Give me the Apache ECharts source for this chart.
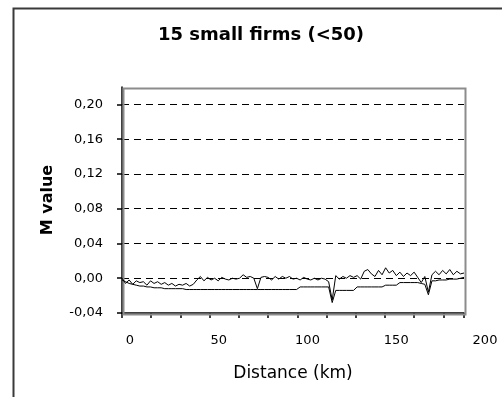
<!DOCTYPE html>
<html>
<head>
<meta charset="utf-8">
<script src="https://cdn.jsdelivr.net/npm/echarts@6/dist/echarts.min.js"></script>
<style>
  html, body { margin: 0; padding: 0; background: #fff; }
  #chart { width: 502px; height: 397px; }
</style>
</head>
<body>
<div id="chart"></div>
<script>
// Distances (km) at which the M statistic was evaluated
var distances = [
  0, 2, 4, 6, 8, 10, 12, 14, 16, 18, 20, 22, 24, 26, 28, 30, 32, 34, 36, 38,
  40, 42, 44, 46, 48, 50, 52, 54, 56, 58, 60, 62, 64, 66, 68, 70, 72, 74, 76, 78,
  80, 82, 84, 86, 88, 90, 92, 94, 96, 98, 100, 102, 104, 106, 108, 110, 112, 114, 116, 118,
  120, 122, 124, 126, 128, 130, 132, 134, 136, 138, 140, 142, 144, 146, 148, 150, 152, 154, 156, 158,
  160, 162, 164, 166, 168, 170, 172, 174, 176, 178, 180, 182, 184, 186, 188, 190, 192
];

// Observed M value
var mValue = [
  0.000, -0.006, -0.002, -0.007, -0.003, -0.005, -0.004, -0.008, -0.003, -0.006,
  -0.004, -0.007, -0.005, -0.008, -0.006, -0.009, -0.007, -0.008, -0.006, -0.009,
  -0.007, -0.002, 0.002, -0.003, 0.001, -0.002, 0.000, -0.003, 0.001, -0.001,
  -0.002, 0.000, -0.001, 0.000, 0.004, 0.001, 0.002, 0.000, -0.012, 0.001,
  0.002, 0.001, -0.002, 0.002, -0.001, 0.002, 0.000, 0.002, -0.001, 0.000,
  -0.002, 0.001, -0.001, -0.002, 0.000, -0.002, 0.000, -0.001, -0.004, -0.025,
  0.003, -0.001, 0.002, 0.000, 0.003, 0.001, 0.003, -0.001, 0.008, 0.010,
  0.005, 0.002, 0.009, 0.004, 0.012, 0.006, 0.009, 0.003, 0.007, 0.002,
  0.006, 0.003, 0.007, 0.001, -0.005, 0.002, -0.016, 0.004, 0.008, 0.004,
  0.009, 0.005, 0.010, 0.004, 0.008, 0.005, 0.006
];

// Lower bound of the simulated envelope
var lowerBound = [
  -0.002, -0.004, -0.006, -0.007, -0.008, -0.009, -0.009, -0.010, -0.010, -0.011,
  -0.011, -0.011, -0.012, -0.012, -0.012, -0.012, -0.012, -0.012, -0.013, -0.013,
  -0.013, -0.013, -0.013, -0.013, -0.013, -0.013, -0.013, -0.013, -0.013, -0.013,
  -0.013, -0.013, -0.013, -0.013, -0.013, -0.013, -0.013, -0.013, -0.013, -0.013,
  -0.013, -0.013, -0.013, -0.013, -0.013, -0.013, -0.013, -0.013, -0.013, -0.013,
  -0.010, -0.010, -0.010, -0.010, -0.010, -0.010, -0.010, -0.010, -0.010, -0.028,
  -0.014, -0.014, -0.014, -0.014, -0.014, -0.014, -0.010, -0.010, -0.010, -0.010,
  -0.010, -0.010, -0.010, -0.010, -0.008, -0.008, -0.008, -0.008, -0.005, -0.005,
  -0.005, -0.005, -0.005, -0.005, -0.006, -0.007, -0.019, -0.003, -0.003, -0.002,
  -0.002, -0.002, -0.001, -0.001, -0.001, 0.000, 0.001
];

// Axis tick labels
var yTicks = [-0.04, 0.00, 0.04, 0.08, 0.12, 0.16, 0.20];
var xTickLabels = [0, 50, 100, 150, 200];

function pairs(xs, ys) {
  return xs.map(function (x, i) { return [x, ys[i]]; });
}

var labelFont = { fontFamily: 'DejaVu Sans', fontSize: 13, color: '#000' };

var chart = echarts.init(document.getElementById('chart'), null, { renderer: 'canvas' });
chart.setOption({
  animation: false,
  backgroundColor: '#fff',
  title: {
    text: '15 small firms (<50)',
    left: 256,
    top: 21,
    textAlign: 'center',
    textStyle: { fontFamily: 'DejaVu Sans', fontWeight: 'bold', fontSize: 18, color: '#000' }
  },
  graphic: [
    {
      // outer chart border
      type: 'rect',
      left: 11,
      top: 6,
      shape: { width: 490, height: 400 },
      style: { fill: 'none', stroke: '#3a3a3a', lineWidth: 2 },
      silent: true,
      z: 100
    },
    {
      // plot area frame
      type: 'rect',
      left: 121,
      top: 86,
      shape: { width: 342, height: 226 },
      style: { fill: 'none', stroke: '#8c8c8c', lineWidth: 2 },
      silent: true,
      z: 1
    }
  ],
  grid: [
    { left: 122, top: 87, width: 342, height: 226, show: false },
    { left: 130, top: 87, width: 355, height: 226, show: false }
  ],
  xAxis: [
    {
      gridIndex: 0,
      type: 'value',
      min: 0,
      max: 192,
      interval: 16.4,
      axisLine: { show: true, onZero: false, lineStyle: { color: '#000', width: 1.5 } },
      axisTick: { show: true, inside: false, length: 5, lineStyle: { color: '#000', width: 1.5 } },
      axisLabel: { show: false },
      splitLine: { show: false },
      name: 'Distance (km)',
      nameLocation: 'middle',
      nameGap: 52,
      nameTextStyle: { fontFamily: 'DejaVu Sans', fontSize: 17, color: '#000' }
    },
    {
      gridIndex: 1,
      type: 'value',
      min: 0,
      max: 200,
      interval: 50,
      axisLine: { show: false },
      axisTick: { show: false },
      splitLine: { show: false },
      axisLabel: Object.assign({
        margin: 21,
        customValues: xTickLabels,
        formatter: function (v) { return String(v); }
      }, labelFont)
    }
  ],
  yAxis: [
    {
      gridIndex: 0,
      type: 'value',
      min: -0.04,
      max: 0.22,
      interval: 0.04,
      axisLine: { show: true, onZero: false, lineStyle: { color: '#000', width: 1.5 } },
      axisTick: { show: true, inside: false, length: 5, customValues: yTicks, lineStyle: { color: '#000', width: 1.5 } },
      axisLabel: Object.assign({
        margin: 19,
        customValues: yTicks,
        formatter: function (v) {
          if (Math.abs(v) < 1e-9) v = 0;
          return v.toFixed(2).replace('.', ',');
        }
      }, labelFont),
      splitLine: {
        show: true,
        showMinLine: false,
        showMaxLine: true,
        lineStyle: { color: '#000', type: [7, 5], width: 1 }
      },
      name: 'M value',
      nameLocation: 'middle',
      nameGap: 66,
      nameRotate: 90,
      nameTextStyle: { fontFamily: 'DejaVu Sans', fontWeight: 'bold', fontSize: 16, color: '#000' }
    },
    { gridIndex: 1, type: 'value', show: false, min: -0.04, max: 0.22 }
  ],
  series: [
    {
      name: 'Lower bound',
      type: 'line',
      xAxisIndex: 0,
      yAxisIndex: 0,
      data: pairs(distances, lowerBound),
      showSymbol: false,
      symbol: 'none',
      lineStyle: { color: '#000', width: 1 },
      z: 3
    },
    {
      name: 'M value',
      type: 'line',
      xAxisIndex: 0,
      yAxisIndex: 0,
      data: pairs(distances, mValue),
      showSymbol: false,
      symbol: 'none',
      lineStyle: { color: '#000', width: 1 },
      z: 4
    }
  ]
});
</script>
</body>
</html>
